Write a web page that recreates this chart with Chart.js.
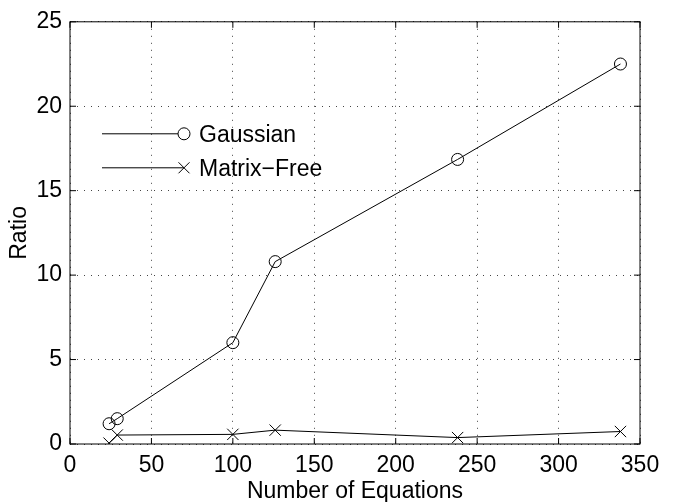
<!DOCTYPE html>
<html>
<head>
<meta charset="utf-8">
<script src="https://cdn.jsdelivr.net/npm/chart.js@4.4.0/dist/chart.umd.min.js"></script>
<style>
  html, body { margin: 0; padding: 0; background: #fff; }
  #wrap { width: 673px; height: 502px; }
</style>
</head>
<body>
<div id="wrap"><canvas id="ratioChart"></canvas></div>
<script>
// Data
const equations = [24, 29, 100, 126, 238, 338];
const gaussianRatio = [1.2, 1.5, 6.0, 10.8, 16.85, 22.5];
const matrixFreeRatio = [0.05, 0.53, 0.57, 0.82, 0.38, 0.74];

const xTicks = [0, 50, 100, 150, 200, 250, 300, 350];
const yTicks = [0, 5, 10, 15, 20, 25];

const FONT = 'Liberation Sans, Arial, Helvetica, sans-serif';
const FONT_SIZE = 23;

function toPoints(ys) {
    return equations.map((x, i) => ({ x: x, y: ys[i] }));
}

// Box round the plot, inward ticks on all four sides, legend without a frame
const matlabFrame = {
    id: 'matlabFrame',
    afterDatasetsDraw(chart) {
        const { ctx, chartArea: a, scales } = chart;
        ctx.save();
        ctx.strokeStyle = '#000';
        ctx.lineWidth = 1;
        ctx.strokeRect(a.left, a.top, a.right - a.left, a.bottom - a.top);

        const len = 6;
        ctx.beginPath();
        xTicks.forEach(v => {
            const px = scales.x.getPixelForValue(v);
            ctx.moveTo(px, a.bottom); ctx.lineTo(px, a.bottom - len);
            ctx.moveTo(px, a.top); ctx.lineTo(px, a.top + len);
        });
        yTicks.forEach(v => {
            const py = scales.y.getPixelForValue(v);
            ctx.moveTo(a.left, py); ctx.lineTo(a.left + len, py);
            ctx.moveTo(a.right, py); ctx.lineTo(a.right - len, py);
        });
        ctx.stroke();

        // legend
        const lx = a.left + 32;
        const rows = [a.top + 112, a.top + 146];
        chart.data.datasets.forEach((ds, i) => {
            const y = rows[i];
            const mx = lx + 82;
            ctx.beginPath();
            ctx.moveTo(lx, y);
            ctx.lineTo(mx, y);
            ctx.stroke();
            ctx.fillStyle = '#fff';
            ctx.beginPath();
            if (ds.pointStyle === 'circle') {
                ctx.arc(mx, y, 6, 0, Math.PI * 2);
                ctx.fill();
                ctx.stroke();
            } else {
                ctx.moveTo(mx - 5.5, y - 5.5); ctx.lineTo(mx + 5.5, y + 5.5);
                ctx.moveTo(mx - 5.5, y + 5.5); ctx.lineTo(mx + 5.5, y - 5.5);
                ctx.stroke();
            }
            ctx.fillStyle = '#000';
            ctx.font = FONT_SIZE + 'px ' + FONT;
            ctx.textBaseline = 'alphabetic';
            ctx.textAlign = 'left';
            ctx.fillText(ds.label, mx + 15, y + 8);
        });
        ctx.restore();
    }
};

const ctx = document.getElementById('ratioChart').getContext('2d');
const ratioChart = new Chart(ctx, {
    type: 'scatter',
    data: {
        datasets: [{
            label: 'Gaussian',
            data: toPoints(gaussianRatio),
            showLine: true,
            borderColor: '#000',
            borderWidth: 1,
            pointStyle: 'circle',
            pointRadius: 6,
            pointBorderWidth: 1,
            pointBorderColor: '#000',
            pointBackgroundColor: 'rgba(0,0,0,0)',
            tension: 0
        }, {
            label: 'Matrix\u2212Free',
            data: toPoints(matrixFreeRatio),
            showLine: true,
            borderColor: '#000',
            borderWidth: 1,
            pointStyle: 'cross',
            rotation: 45,
            pointRadius: 8,
            pointBorderWidth: 1,
            pointBorderColor: '#000',
            pointBackgroundColor: 'rgba(0,0,0,0)',
            tension: 0
        }]
    },
    options: {
        responsive: true,
        maintainAspectRatio: false,
        animation: false,
        devicePixelRatio: 1,
        layout: { padding: { top: 16, right: 33, left: 6, bottom: 0 } },
        plugins: {
            legend: { display: false },
            tooltip: { enabled: false }
        },
        scales: {
            x: {
                type: 'linear',
                min: 0, max: 350,
                afterBuildTicks: s => { s.ticks = xTicks.map(v => ({ value: v })); },
                afterFit: s => { s.height = 58; },
                ticks: { color: '#000', padding: 8, font: { family: FONT, size: FONT_SIZE } },
                grid: { color: '#444', lineWidth: 1, drawTicks: false },
                border: { display: false, dash: [1, 6] },
                title: { display: true, text: 'Number of Equations', color: '#000',
                         padding: { top: 0, bottom: -3 },
                         font: { family: FONT, size: FONT_SIZE } }
            },
            y: {
                type: 'linear',
                min: 0, max: 25,
                afterBuildTicks: s => { s.ticks = yTicks.map(v => ({ value: v })); },
                afterFit: s => { s.width = 64; },
                ticks: { color: '#000', padding: 8, font: { family: FONT, size: FONT_SIZE } },
                grid: { color: '#444', lineWidth: 1, drawTicks: false },
                border: { display: false, dash: [1, 6] },
                title: { display: true, text: 'Ratio', color: '#000', padding: 0,
                         font: { family: FONT, size: FONT_SIZE } }
            }
        }
    },
    plugins: [matlabFrame]
});
</script>
</body>
</html>
